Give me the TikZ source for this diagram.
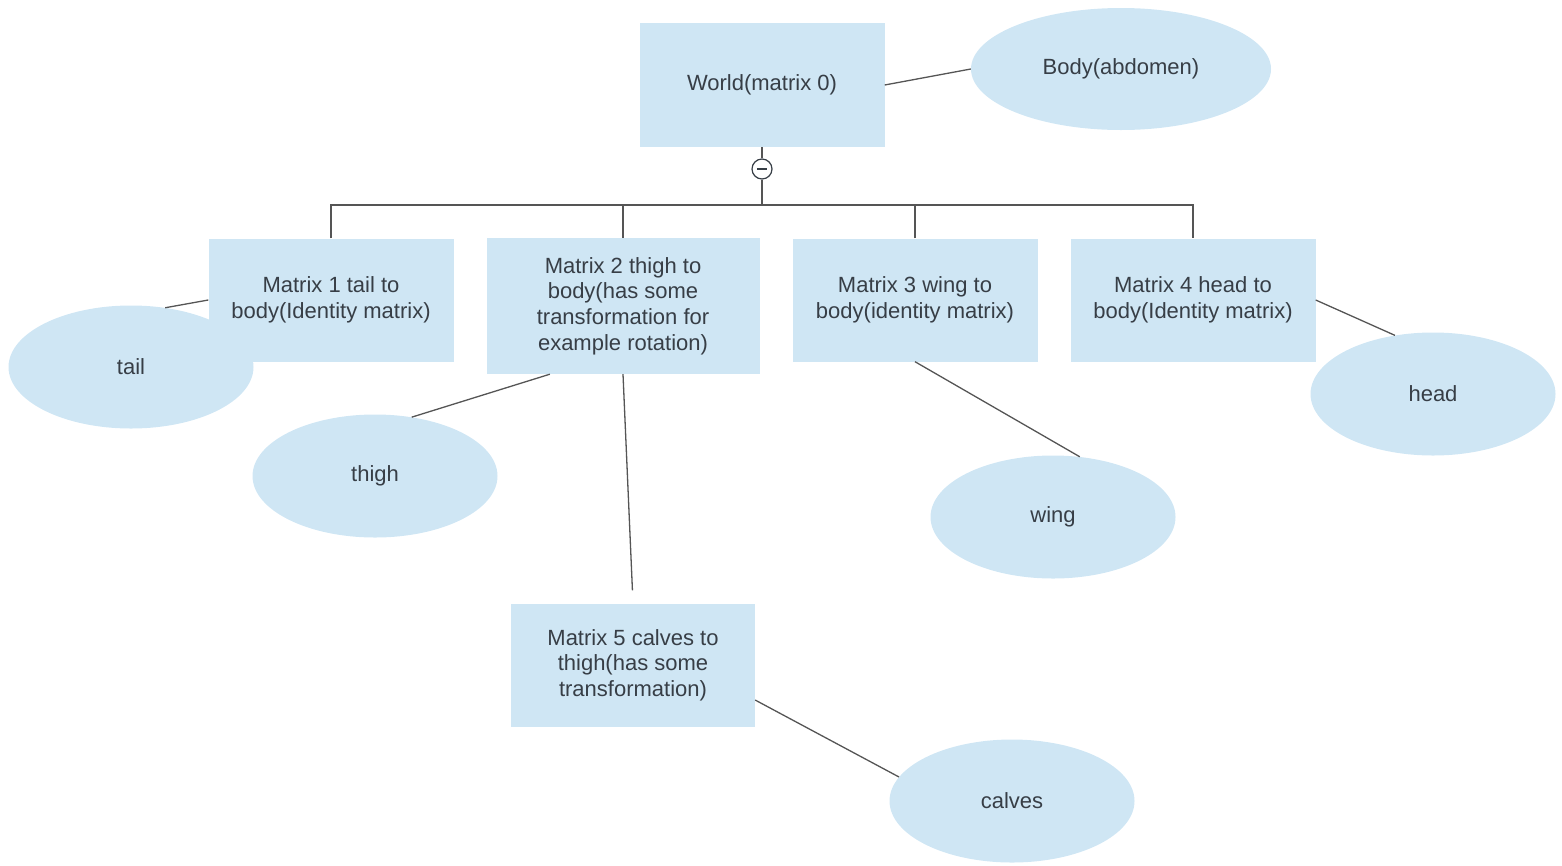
\documentclass[tikz,border=0pt]{standalone}
\usepackage{fontspec}
\setmainfont{Liberation Sans}
\usetikzlibrary{positioning,shapes,arrows}

\definecolor{boxblue}{RGB}{207,230,244}
\definecolor{inkgray}{RGB}{55,62,70}
\definecolor{linegray}{RGB}{85,85,85}

\begin{document}
\begin{tikzpicture}[x=1pt, y=-1pt,
    matbox/.style={rectangle, fill=boxblue, text=inkgray, align=center,
        minimum width=245pt, minimum height=123pt, inner sep=0pt,
        font=\fontsize{22}{25.7}\selectfont},
    part/.style={ellipse, fill=boxblue, text=inkgray, inner sep=0pt,
        minimum width=245pt, minimum height=123pt,
        font=\fontsize{22}{25.7}\selectfont},
    link/.style={draw=linegray, line width=1.3pt}]
    \useasboundingbox (0,0) rectangle (1562,865);

    % Root
    \node[matbox, minimum height=124pt] (world) at (762,85) {World(matrix 0)};
    \node[part, minimum width=300pt, minimum height=122pt] (body) at (1121,69) {Body(abdomen)};
    \draw[link] (world.east) -- (body.west);

    % Matrices
    \node[matbox] (m1) at (331,300) {Matrix 1 tail to\\body(Identity matrix)};
    \node[matbox, minimum width=273pt, minimum height=136pt] (m2) at (623,306) {Matrix 2 thigh to\\body(has some\\transformation for\\example rotation)};
    \node[matbox] (m3) at (915,300) {Matrix 3 wing to\\body(identity matrix)};
    \node[matbox] (m4) at (1193,300) {Matrix 4 head to\\body(Identity matrix)};
    \node[matbox, minimum width=244pt] (m5) at (633,665) {Matrix 5 calves to\\thigh(has some\\transformation)};

    % Tree lines
    \node[circle, draw=inkgray, fill=white, line width=1.2pt, minimum size=20pt, inner sep=0pt] (fold) at (762,169) {};
    \draw[inkgray, line width=1.6pt] (fold.center) ++(-5,0) -- ++(10,0);
    \coordinate (bus) at (762,205);
    \draw[link] (world.south) -- (fold.north);
    \draw[link] (fold.south) -- (bus);
    \draw[link] (m1.north) |- (bus) -| (m4.north);
    \draw[link] (m2.north) -- (m2.north |- bus);
    \draw[link] (m3.north) -- (m3.north |- bus);

    % Parts
    \node[part] (tail) at (131,367) {tail};
    \node[part] (thigh) at (375,476) {thigh};
    \node[part] (wing) at (1053,517) {wing};
    \node[part] (head) at (1433,394) {head};
    \node[part] (calves) at (1012,801) {calves};

    \draw[link] (m1.west) -- (tail.60);
    \draw[link] (m2.-137) -- (thigh.58);
    \draw[link, shorten >=13pt] (m2.south) -- (m5.north);
    \draw[link] (m3.south) -- (wing.66);
    \draw[link] (m4.east) -- (head.123);
    \draw[link] (m5.-16) -- (calves.168);
\end{tikzpicture}
\end{document}
